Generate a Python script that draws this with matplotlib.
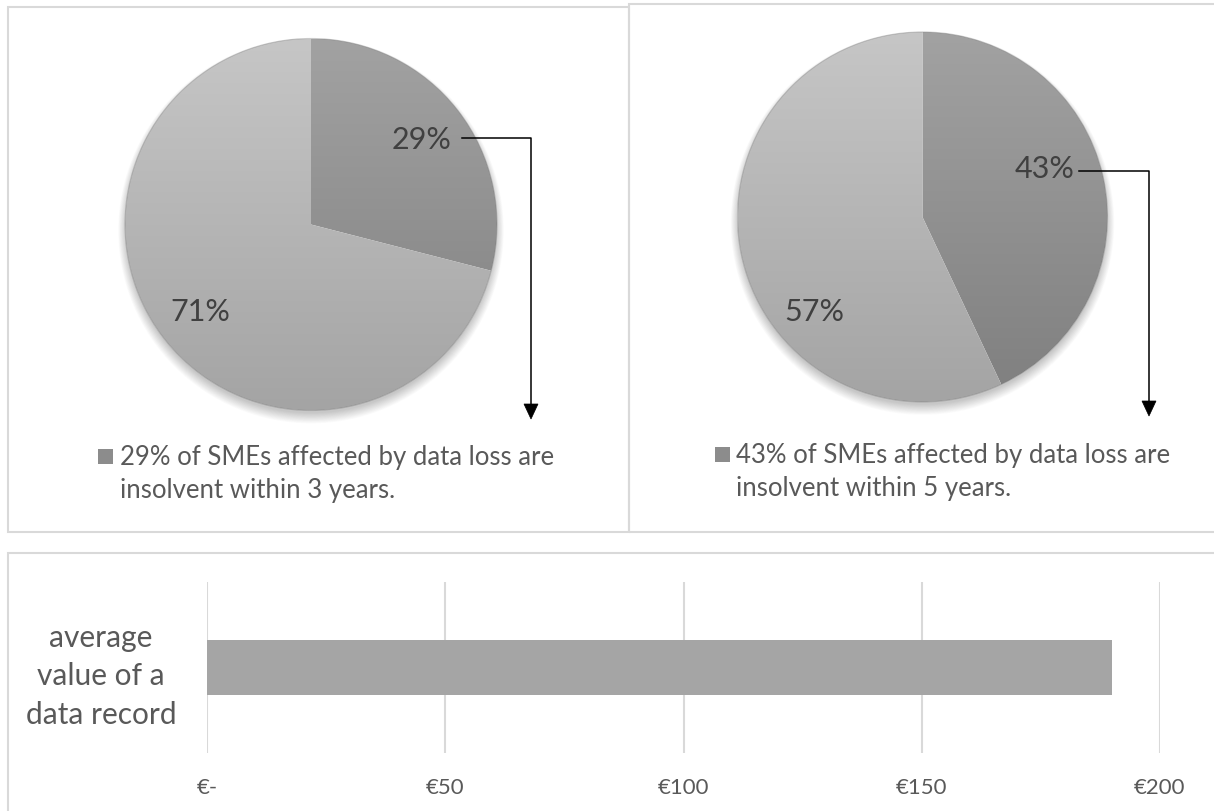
import numpy as np
import matplotlib
matplotlib.use('Agg')
import matplotlib.pyplot as plt
from matplotlib.patches import Rectangle, Polygon, Circle
from matplotlib.lines import Line2D
from matplotlib.colors import LinearSegmentedColormap

# ---------------- data ----------------
pie1_values = [29, 71]
pie1_labels = ['29%', '71%']
pie1_legend = ['29% of SMEs affected by data loss are', 'insolvent within 3 years.']

pie2_values = [43, 57]
pie2_labels = ['43%', '57%']
pie2_legend = ['43% of SMEs affected by data loss are', 'insolvent within 5 years.']

bar_categories = ['average\nvalue of a\ndata record']
bar_values = [190]
bar_ticks = [0, 50, 100, 150, 200]
bar_ticklabels = ['€-', '€50', '€100', '€150', '€200']

# ---------------- style ----------------
plt.rcParams['font.family'] = ['Lato', 'DejaVu Sans']
W, H = 1214, 812
fig = plt.figure(figsize=(W / 100, H / 100), dpi=100)
fig.patch.set_facecolor('white')

BORDER = '#d9d9d9'
TEXT = '#595959'
LABEL = '#404040'
wedge_grad = [('#a2a2a2', '#7f7f7f'), ('#c6c6c6', '#a4a4a4')]


def fx(x):
    return x / W


def fy(y):
    return 1 - y / H


def panel(x0, y0, x1, y1):
    fig.add_artist(Rectangle((fx(x0), fy(y1)), fx(x1) - fx(x0), fy(y0) - fy(y1),
                             transform=fig.transFigure, fill=False,
                             edgecolor=BORDER, linewidth=1.5))


panel(8, 8, 629, 533)
panel(629, 5, 1225, 533)
panel(8, 554, 1225, 825)


def draw_pie(cx, cy, r, values, labels, label_pos):
    pad = 1.1
    half = r * pad
    ax = fig.add_axes([fx(cx - half), fy(cy + half), 2 * half / W, 2 * half / H])
    # soft shadow (mostly below the pie)
    for i in range(14):
        ax.add_patch(Circle((0.0, -0.02 - 0.001 * i), 0.995 + 0.0032 * i, facecolor='black',
                            alpha=0.016, lw=0, zorder=0))
    ax.add_patch(Circle((0, 0), 1.0, facecolor='white', lw=0, zorder=0.5))
    wedges, _ = ax.pie(values, startangle=90, counterclock=False, radius=1,
                       wedgeprops=dict(linewidth=0))
    grad = np.linspace(0, 1, 256).reshape(-1, 1)
    for w, (ct, cb) in zip(wedges, wedge_grad):
        cmap = LinearSegmentedColormap.from_list('g', [ct, cb])
        im = ax.imshow(grad, cmap=cmap, extent=[-1, 1, -1, 1], origin='upper',
                       aspect='auto', zorder=2, interpolation='bilinear')
        im.set_clip_path(w)
        w.set_facecolor('none')
    ax.add_patch(Circle((0, 0), 1.0, facecolor='none', edgecolor='#707070',
                        lw=0.8, alpha=0.35, zorder=3))
    for lab, (lx, ly) in zip(labels, label_pos):
        ax.text(lx, ly, lab, ha='center', va='center', fontsize=22, color=LABEL, zorder=5)
    ax.set_xlim(-pad, pad)
    ax.set_ylim(-pad, pad)
    ax.set_aspect('equal')
    ax.axis('off')
    return ax


draw_pie(311, 225.5, 186, pie1_values, pie1_labels, [(0.595, 0.46), (-0.597, -0.465)])
draw_pie(922.5, 218, 185, pie2_values, pie2_labels, [(0.662, 0.265), (-0.584, -0.508)])


def leader(pts, tip_y):
    xs = [fx(p[0]) for p in pts]
    ys = [fy(p[1]) for p in pts]
    fig.add_artist(Line2D(xs, ys, transform=fig.transFigure, color='black', lw=1.1))
    x = pts[-1][0]
    top = pts[-1][1]
    fig.add_artist(Polygon([(fx(x - 7), fy(top)), (fx(x + 7), fy(top)), (fx(x), fy(tip_y))],
                           closed=True, transform=fig.transFigure,
                           facecolor='black', edgecolor='black', lw=0.5))


leader([(462, 139), (531, 139), (531, 405)], 420)
leader([(1079, 172), (1149, 172), (1149, 402)], 417)


def legend(x_sq, y_sq, x_txt, lines):
    fig.add_artist(Rectangle((fx(x_sq), fy(y_sq + 15)), 15 / W, 15 / H,
                             transform=fig.transFigure, facecolor='#8c8c8c', lw=0))
    fig.text(fx(x_txt), fy(y_sq + 7.5), lines[0], ha='left', va='center',
             fontsize=18.5, color=TEXT)
    fig.text(fx(x_txt), fy(y_sq + 41), lines[1], ha='left', va='center',
             fontsize=18.5, color=TEXT)


legend(98, 450, 120, pie1_legend)
legend(715, 448, 736, pie2_legend)

# ---------------- bar chart ----------------
ax3 = fig.add_axes([fx(207), fy(754), (1160 - 207) / W, (754 - 583) / H])
ax3.barh([0], bar_values, height=0.316, color='#a5a5a5', zorder=3)
ax3.set_xlim(0, 200)
ax3.set_ylim(-0.5, 0.5)
ax3.set_xticks(bar_ticks)
ax3.set_xticklabels(bar_ticklabels, fontsize=16, color=TEXT)
ax3.set_yticks([0])
ax3.set_yticklabels(bar_categories, fontsize=21.5, color=TEXT, multialignment='center',
                    linespacing=1.45)
ax3.tick_params(axis='both', length=0)
ax3.tick_params(axis='x', pad=17)
ax3.tick_params(axis='y', pad=22)
ax3.grid(axis='x', color=BORDER, linewidth=1.5)
ax3.set_axisbelow(True)
for s in ax3.spines.values():
    s.set_visible(False)
ax3.patch.set_alpha(0)

fig.savefig('out.png', dpi=100, facecolor='white')
